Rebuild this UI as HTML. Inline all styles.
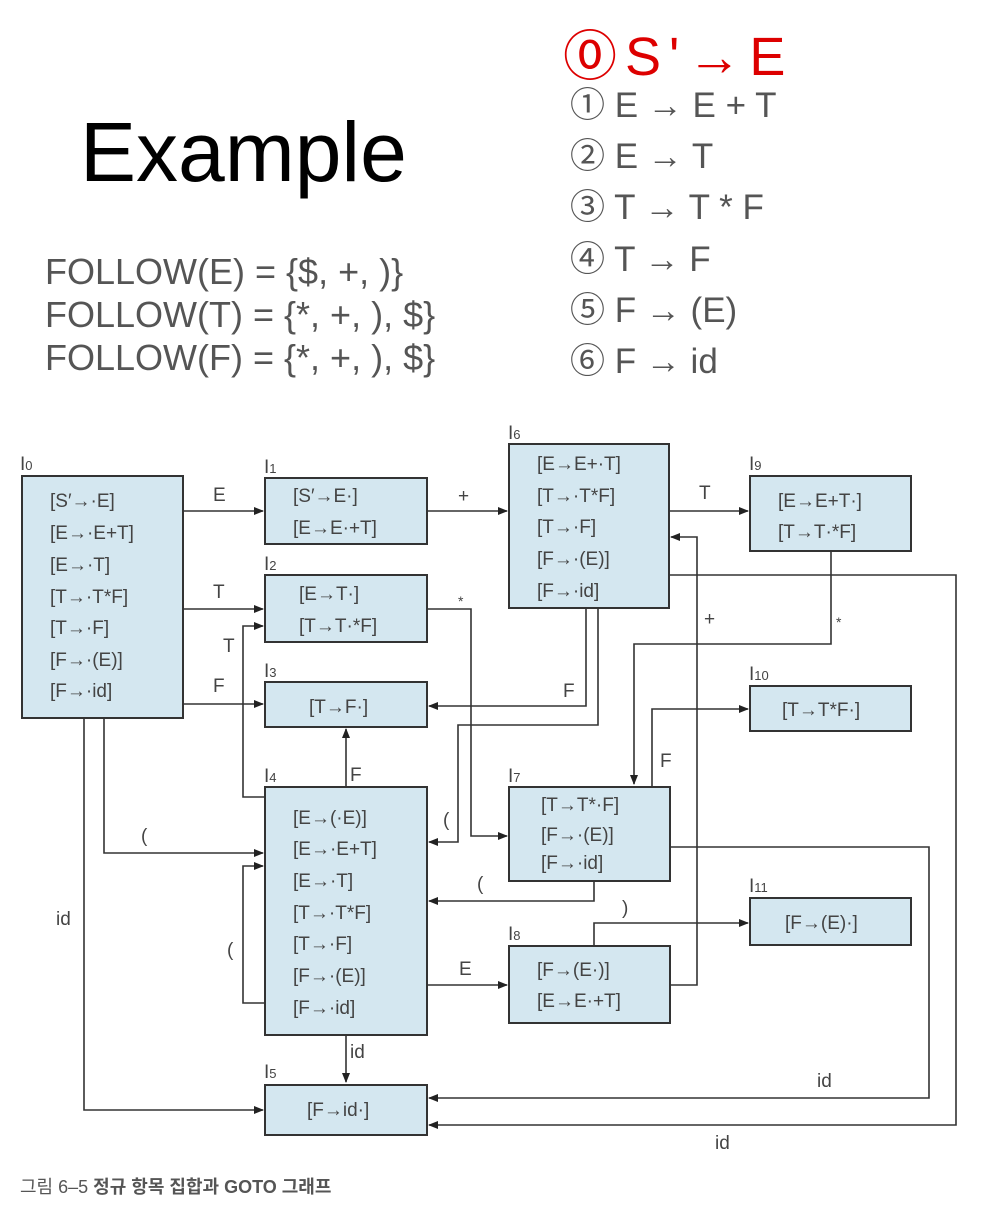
<!DOCTYPE html>
<html><head><meta charset="utf-8"><style>
html,body{margin:0;padding:0;background:#fff;}
body{width:1000px;height:1208px;position:relative;overflow:hidden;font-family:"Liberation Sans","Noto Sans CJK KR",sans-serif;}
.t{position:absolute;white-space:nowrap;}
</style></head><body>
<div class="t" style="left:80px;top:104px;font-size:84px;color:#000;">Example</div>
<div class="t" style="left:45px;top:250px;font-size:36px;color:#555;line-height:43px;">FOLLOW(E) = {$, +, )}<br>FOLLOW(T) = {*, +, ), $}<br>FOLLOW(F) = {*, +, ), $}</div>
<div class="t" style="left:563px;top:12px;font-size:54px;color:#d00;letter-spacing:8px;font-family:'Liberation Sans',sans-serif;">⓪S'→E</div>
<div class="t" style="left:570px;top:80px;font-size:35px;color:#555;line-height:51.2px;">① E → E + T<br>② E → T<br>③ T → T * F<br>④ T → F<br>⑤ F → (E)<br>⑥ F → id</div>

<svg width="1000" height="1208" style="position:absolute;left:0;top:0" xmlns="http://www.w3.org/2000/svg">
<defs><marker id="a" markerWidth="10" markerHeight="8" refX="9" refY="4" orient="auto" markerUnits="userSpaceOnUse"><path d="M0,0 L10,4 L0,8 z" fill="#222"/></marker></defs>
<g fill="#d4e7f0" stroke="#333" stroke-width="2">
<rect x="22" y="476" width="161" height="242"/>
<rect x="265" y="478" width="162" height="66"/>
<rect x="265" y="575" width="162" height="67"/>
<rect x="265" y="682" width="162" height="45"/>
<rect x="265" y="787" width="162" height="248"/>
<rect x="265" y="1085" width="162" height="50"/>
<rect x="509" y="444" width="160" height="164"/>
<rect x="509" y="787" width="161" height="94"/>
<rect x="509" y="946" width="161" height="77"/>
<rect x="750" y="476" width="161" height="75"/>
<rect x="750" y="686" width="161" height="45"/>
<rect x="750" y="898" width="161" height="47"/>
</g>
<g fill="none" stroke="#333" stroke-width="1.6" marker-end="url(#a)">
<path d="M183,511 H263"/>
<path d="M427,511 H507"/>
<path d="M183,609 H263"/>
<path d="M265,797 H243 V626 H263"/>
<path d="M183,704 H263"/>
<path d="M427,609 H471 V836 H507"/>
<path d="M586,608 V706 H429"/>
<path d="M598,608 V725 H458 V842 H429"/>
<path d="M669,511 H748"/>
<path d="M670,985 H697 V537 H671"/>
<path d="M669,575 H956 V1125 H429"/>
<path d="M831,551 V644 H634 V784"/>
<path d="M652,787 V709 H748"/>
<path d="M670,847 H929 V1098 H429"/>
<path d="M594,881 V901 H429"/>
<path d="M594,946 V923 H748"/>
<path d="M427,985 H507"/>
<path d="M265,1003 H243 V866 H263"/>
<path d="M346,787 V729"/>
<path d="M346,1035 V1082"/>
<path d="M104,718 V853 H263"/>
<path d="M84,718 V1110 H263"/>
</g>
<g font-family="Liberation Sans, sans-serif" font-size="19" fill="#444">
<text x="20" y="470">I<tspan font-size="13">0</tspan></text>
<text x="264" y="473">I<tspan font-size="13">1</tspan></text>
<text x="264" y="570">I<tspan font-size="13">2</tspan></text>
<text x="264" y="677">I<tspan font-size="13">3</tspan></text>
<text x="264" y="782">I<tspan font-size="13">4</tspan></text>
<text x="264" y="1078">I<tspan font-size="13">5</tspan></text>
<text x="508" y="439">I<tspan font-size="13">6</tspan></text>
<text x="508" y="782">I<tspan font-size="13">7</tspan></text>
<text x="508" y="940">I<tspan font-size="13">8</tspan></text>
<text x="749" y="470">I<tspan font-size="13">9</tspan></text>
<text x="749" y="680">I<tspan font-size="13">10</tspan></text>
<text x="749" y="892">I<tspan font-size="13">11</tspan></text>
</g>
<g font-family="Liberation Sans, sans-serif" font-size="19" fill="#444">
<text x="50" y="507">[S′→·E]</text>
<text x="50" y="539">[E→·E+T]</text>
<text x="50" y="571">[E→·T]</text>
<text x="50" y="603">[T→·T*F]</text>
<text x="50" y="634">[T→·F]</text>
<text x="50" y="666">[F→·(E)]</text>
<text x="50" y="697">[F→·id]</text>
<text x="293" y="502">[S′→E·]</text>
<text x="293" y="534">[E→E·+T]</text>
<text x="299" y="600">[E→T·]</text>
<text x="299" y="632">[T→T·*F]</text>
<text x="309" y="713">[T→F·]</text>
<text x="293" y="824">[E→(·E)]</text>
<text x="293" y="855">[E→·E+T]</text>
<text x="293" y="887">[E→·T]</text>
<text x="293" y="919">[T→·T*F]</text>
<text x="293" y="950">[T→·F]</text>
<text x="293" y="982">[F→·(E)]</text>
<text x="293" y="1014">[F→·id]</text>
<text x="307" y="1116">[F→id·]</text>
<text x="537" y="470">[E→E+·T]</text>
<text x="537" y="502">[T→·T*F]</text>
<text x="537" y="533">[T→·F]</text>
<text x="537" y="565">[F→·(E)]</text>
<text x="537" y="597">[F→·id]</text>
<text x="541" y="811">[T→T*·F]</text>
<text x="541" y="841">[F→·(E)]</text>
<text x="541" y="869">[F→·id]</text>
<text x="537" y="976">[F→(E·)]</text>
<text x="537" y="1007">[E→E·+T]</text>
<text x="778" y="507">[E→E+T·]</text>
<text x="778" y="538">[T→T·*F]</text>
<text x="782" y="716">[T→T*F·]</text>
<text x="785" y="929">[F→(E)·]</text>
</g>
<g font-family="Liberation Sans, sans-serif" font-size="19" fill="#444">
<text x="213" y="501">E</text>
<text x="458" y="502">+</text>
<text x="213" y="598">T</text>
<text x="223" y="652">T</text>
<text x="213" y="692">F</text>
<text x="458" y="606" font-size="14">*</text>
<text x="563" y="697">F</text>
<text x="443" y="826">(</text>
<text x="699" y="499">T</text>
<text x="704" y="625">+</text>
<text x="836" y="627" font-size="14">*</text>
<text x="660" y="767">F</text>
<text x="350" y="781">F</text>
<text x="477" y="890">(</text>
<text x="622" y="914">)</text>
<text x="459" y="975">E</text>
<text x="227" y="956">(</text>
<text x="350" y="1058">id</text>
<text x="141" y="842">(</text>
<text x="56" y="925">id</text>
<text x="817" y="1087">id</text>
<text x="715" y="1149">id</text>
</g>
</svg>
<div class="t" style="left:20px;top:1173px;font-size:18px;color:#555;font-family:'Liberation Sans','Noto Sans CJK KR',sans-serif;">그림 6–5 <b>정규 항목 집합과 GOTO 그래프</b></div>
</body></html>
